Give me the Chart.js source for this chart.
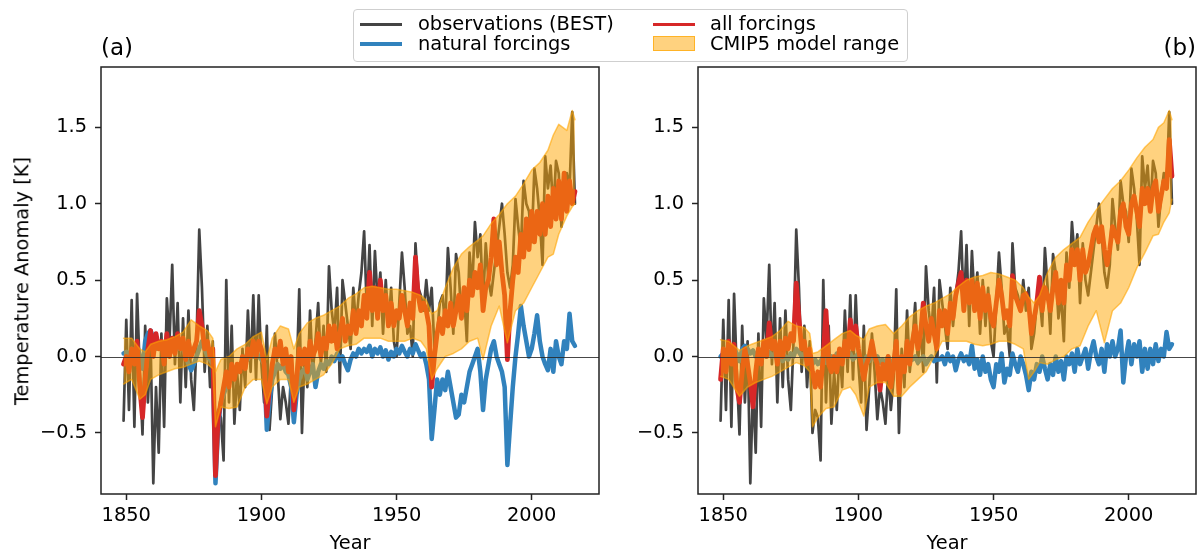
<!DOCTYPE html>
<html>
<head>
<meta charset="utf-8">
<script src="https://cdn.jsdelivr.net/npm/chart.js@4.4.1/dist/chart.umd.min.js"></script>
<style>
html,body{margin:0;padding:0;background:#fff;}
body{width:1202px;height:553px;position:relative;overflow:hidden;font-family:"DejaVu Sans",sans-serif;color:#000;}
canvas{position:absolute;top:0;}
#ca{left:0;}
#cb{left:600px;}
.t{position:absolute;white-space:nowrap;line-height:1;}
#legend{position:absolute;left:353px;top:9px;width:553px;height:51px;border:1px solid #cfcfcf;border-radius:4px;background:rgba(255,255,255,0.85);z-index:5;}
.lh{position:absolute;height:4px;}
.lt{position:absolute;font-size:19.4px;line-height:1;white-space:nowrap;}
</style>
</head>
<body>
<canvas id="ca" width="605" height="553"></canvas>
<canvas id="cb" width="602" height="553"></canvas>

<div class="t" style="left:101px;top:35.5px;font-size:23px;">(a)</div>
<div class="t" style="left:1196px;top:35.5px;font-size:23px;transform:translateX(-100%);">(b)</div>
<div class="t" style="left:350px;top:532.6px;font-size:19.4px;transform:translateX(-50%);">Year</div>
<div class="t" style="left:947px;top:532.6px;font-size:19.4px;transform:translateX(-50%);">Year</div>
<div class="t" style="left:22.3px;top:281px;font-size:19.4px;transform:translate(-50%,-50%) rotate(-90deg);">Temperature Anomaly [K]</div>

<div id="legend">
  <div class="lh" style="left:6px;top:12.5px;width:42px;background:#444444;height:3.5px;"></div>
  <div class="lt" style="left:64px;top:4px;">observations (BEST)</div>
  <div class="lh" style="left:6px;top:32px;width:42px;background:#3182bd;height:3.5px;"></div>
  <div class="lt" style="left:64px;top:24px;">natural forcings</div>
  <div class="lh" style="left:299px;top:12.5px;width:42px;background:#d62728;height:3.5px;"></div>
  <div class="lt" style="left:356px;top:4px;">all forcings</div>
  <div class="lh" style="left:299px;top:26px;width:40px;height:13px;background:rgba(255,165,0,0.5);border:1px solid rgba(255,165,0,0.7);"></div>
  <div class="lt" style="left:356px;top:24px;">CMIP5 model range</div>
</div>

<script>
// ---------- DATA ----------
const years = [];
for (let y = 1849; y <= 2016; y++) years.push(y);

const xTickValues = [1850, 1900, 1950, 2000];
const yTickValues = [-0.5, 0.0, 0.5, 1.0, 1.5];

// observations (BEST), annual 1849-2016
const obs = [
  -0.42,
  0.24, -0.35, 0.37, -0.46, 0.41, -0.10, -0.51, 0.20, -0.30, 0.10,
  -0.83, -0.20, -0.63, 0.15, -0.46, 0.38, 0.10, 0.60, -0.05, 0.35,
  -0.30, 0.25, -0.20, 0.30, -0.15, -0.35, 0.10, 0.83, 0.45, -0.10,
  0.20, -0.20, 0.10, -0.50, -0.35, -0.40, -0.68, 0.50, -0.30, 0.20,
  -0.44, -0.10, -0.35, 0.05, -0.20, 0.30, -0.10, 0.40, -0.15, 0.40,
  -0.05, -0.30, 0.20, -0.48, -0.20, 0.15, -0.10, -0.41, -0.20, -0.30,
  -0.44, -0.10, -0.35, -0.15, 0.44, -0.50, 0.05, -0.20, 0.30, -0.10,
  0.10, 0.35, -0.05, 0.20, -0.10, 0.59, 0.30, 0.15, 0.45, -0.17,
  0.50, 0.35, 0.20, 0.05, 0.45, 0.20, 0.40, 0.55, 0.82, 0.30,
  0.73, 0.20, 0.69, 0.35, 0.55, 0.15, 0.50, 0.20, 0.45, 0.10,
  0.00, 0.35, 0.68, 0.45, 0.15, 0.20, 0.00, 0.74, 0.45, 0.40,
  0.30, 0.50, 0.30, 0.45, 0.05, 0.15, 0.35, 0.40, 0.20, 0.71,
  0.45, 0.15, 0.67, 0.55, 0.25, 0.40, 0.10, 0.68, 0.45, 0.88,
  0.65, 0.80, 0.35, 0.74, 0.50, 0.40, 0.55, 0.70, 0.85, 1.00,
  0.80, 0.55, 0.45, 0.60, 1.03, 0.85, 0.70, 1.15, 1.00, 0.95,
  0.75, 1.23, 1.10, 0.90, 0.60, 1.31, 1.10, 1.25, 0.95, 1.28,
  1.20, 0.85, 1.05, 1.20, 1.10, 1.60, 1.00
];

// panel (a): natural forcings
const naturalA = [
  0.02,
  0.03, 0.00, 0.05, 0.02, 0.08, 0.00, -0.08, 0.10, 0.15, 0.17,
  0.12, 0.05, 0.08, 0.10, 0.05, 0.08, 0.05, 0.10, 0.08, 0.05,
  0.07, 0.05, 0.00, -0.05, -0.09, -0.05, 0.00, 0.05, 0.10, 0.05,
  0.00, -0.02, -0.05, -0.83, -0.45, -0.30, -0.25, -0.20, -0.15, -0.12,
  -0.10, -0.08, -0.05, -0.03, 0.00, -0.02, 0.02, 0.00, 0.03, 0.00,
  -0.02, -0.05, -0.48, -0.30, -0.15, -0.10, -0.05, -0.08, -0.05, -0.10,
  -0.12, -0.20, -0.43, -0.25, -0.15, -0.10, -0.08, -0.15, -0.10, -0.05,
  -0.20, -0.10, -0.05, -0.08, -0.03, -0.05, 0.00, -0.03, 0.02, -0.02,
  0.00, -0.05, -0.09, -0.02, 0.02, 0.00, 0.05, 0.02, 0.05, 0.03,
  0.07, 0.00, 0.05, 0.02, 0.06, 0.00, 0.04, -0.02, 0.03, 0.00,
  0.05, 0.02, 0.07, 0.03, 0.00, 0.05, 0.02, 0.08, 0.04, 0.00,
  0.02, -0.05, -0.15, -0.54, -0.35, -0.15, -0.25, -0.15, -0.22, -0.10,
  -0.20, -0.30, -0.40, -0.38, -0.25, -0.30, -0.20, -0.10, -0.05, 0.00,
  0.05, -0.10, -0.35, -0.15, -0.05, 0.05, 0.10, 0.00, -0.05, -0.10,
  -0.20, -0.71, -0.45, -0.20, 0.00, 0.15, 0.33, 0.20, 0.10, 0.00,
  0.05, 0.15, 0.27, 0.10, 0.00, -0.05, -0.09, 0.05, -0.10, 0.10,
  0.00, -0.05, 0.10, 0.05, 0.28, 0.10, 0.07
];

// panel (a): all forcings
const allA = [
  -0.05,
  0.00, -0.10, 0.05, -0.05, 0.10, -0.20, -0.40, -0.15, 0.05, 0.17,
  0.00, 0.15, 0.05, 0.10, -0.05, 0.15, 0.00, 0.12, 0.02, 0.15,
  0.05, 0.12, -0.02, 0.10, 0.00, 0.05, 0.10, 0.30, 0.20, 0.05,
  0.10, 0.00, 0.05, -0.78, -0.40, -0.30, -0.20, -0.10, -0.20, -0.05,
  -0.15, -0.05, -0.10, 0.00, -0.08, 0.05, 0.00, 0.10, 0.00, 0.10,
  0.05, -0.05, -0.39, -0.20, -0.05, 0.05, 0.00, 0.10, -0.05, 0.05,
  -0.10, 0.00, -0.35, -0.15, 0.05, -0.05, 0.05, -0.10, 0.10, 0.00,
  0.05, 0.15, 0.00, 0.12, 0.05, 0.20, 0.10, 0.20, 0.05, 0.15,
  0.25, 0.10, 0.20, 0.15, 0.30, 0.15, 0.30, 0.20, 0.40, 0.25,
  0.55, 0.30, 0.45, 0.25, 0.50, 0.30, 0.40, 0.20, 0.35, 0.20,
  0.30, 0.25, 0.40, 0.30, 0.20, 0.35, 0.25, 0.65, 0.40, 0.30,
  0.35, 0.30, 0.20, -0.20, 0.00, 0.15, 0.25, 0.15, 0.30, 0.20,
  0.35, 0.20, 0.30, 0.40, 0.25, 0.45, 0.30, 0.50, 0.40, 0.55,
  0.45, 0.60, 0.30, 0.45, 0.50, 0.65, 0.90, 0.60, 0.75, 0.55,
  0.40, -0.02, 0.30, 0.50, 0.65, 0.55, 0.80, 0.65, 0.90, 0.70,
  0.95, 0.75, 0.95, 0.80, 1.00, 0.80, 1.05, 0.85, 1.10, 0.90,
  1.15, 0.90, 1.20, 0.95, 1.15, 1.00, 1.08
];

// panel (a): CMIP5 model range
const bandYearsA = [1849,1852,1855,1857,1859,1862,1865,1868,1871,1874,1877,1880,1882,1883,1885,1888,1891,1894,1897,1900,1902,1904,1907,1910,1912,1914,1917,1920,1923,1926,1929,1932,1935,1938,1941,1944,1947,1950,1953,1956,1959,1961,1963,1965,1968,1971,1974,1977,1980,1982,1985,1988,1991,1994,1997,2000,2003,2006,2008,2010,2013,2015,2016];
const bandLoA = [-0.18,-0.15,-0.28,-0.25,-0.15,-0.12,-0.10,-0.08,-0.07,-0.05,-0.03,-0.05,-0.08,-0.46,-0.33,-0.34,-0.33,-0.20,-0.15,-0.15,-0.31,-0.20,-0.15,-0.15,-0.30,-0.20,-0.18,-0.15,-0.12,-0.05,0.05,0.07,0.08,0.12,0.12,0.12,0.10,0.10,0.10,0.12,0.10,0.05,-0.15,-0.08,0.00,0.02,0.05,0.10,0.12,-0.02,0.20,0.33,0.09,0.30,0.35,0.45,0.55,0.65,0.67,0.80,0.92,0.98,1.00];
const bandHiA = [0.12,0.12,0.05,0.03,0.08,0.10,0.11,0.13,0.16,0.24,0.20,0.17,0.12,-0.10,-0.02,0.00,0.05,0.08,0.13,0.16,-0.02,0.12,0.20,0.18,0.05,0.15,0.22,0.25,0.27,0.30,0.33,0.38,0.41,0.45,0.46,0.45,0.44,0.44,0.43,0.42,0.40,0.37,0.28,0.30,0.45,0.58,0.67,0.72,0.76,0.79,0.87,0.93,1.00,1.05,1.13,1.22,1.27,1.35,1.45,1.52,1.48,1.61,1.55];

// panel (b): natural forcings
const naturalB = [
  0.00,
  0.02, -0.02, 0.03, 0.00, 0.05, 0.02, -0.03, 0.05, 0.07, 0.05,
  0.02, 0.04, 0.00, 0.03, -0.02, 0.02, 0.00, 0.03, 0.00, 0.02,
  -0.02, 0.00, -0.03, 0.00, -0.02, 0.02, 0.00, 0.05, 0.03, 0.00,
  0.02, -0.03, 0.00, -0.05, -0.02, -0.05, -0.03, 0.00, -0.04, -0.02,
  0.00, -0.03, 0.02, -0.02, 0.00, 0.03, 0.00, 0.02, -0.02, 0.00,
  0.02, -0.02, -0.05, 0.00, -0.03, 0.02, -0.02, 0.00, -0.04, -0.02,
  -0.05, 0.00, -0.06, -0.02, 0.00, -0.04, -0.02, -0.05, 0.00, -0.03,
  -0.02, 0.00, -0.04, -0.02, 0.00, -0.05, -0.02, 0.00, -0.03, -0.02,
  -0.02, 0.00, -0.05, 0.02, -0.03, 0.00, -0.09, -0.02, 0.02, -0.03,
  0.00, -0.05, 0.07, -0.08, -0.02, -0.12, 0.00, -0.10, -0.05, -0.15,
  -0.20, -0.05, -0.10, 0.02, -0.17, -0.08, -0.12, 0.02, -0.05, -0.10,
  0.00, -0.05, -0.12, -0.22, -0.10, -0.15, -0.05, -0.10, 0.00, -0.08,
  -0.15, -0.05, -0.12, 0.00, -0.10, -0.03, -0.15, 0.00, -0.05, 0.02,
  -0.10, 0.05, -0.05, 0.00, 0.05, -0.08, 0.03, 0.10, 0.00, -0.05,
  0.05, -0.10, 0.08, 0.00, 0.10, 0.00, 0.05, 0.17, -0.17, 0.00,
  0.10, -0.05, 0.08, 0.00, 0.10, -0.10, 0.05, -0.08, 0.05, -0.05,
  0.08, -0.03, 0.05, 0.00, 0.16, 0.05, 0.08
];

// panel (b): all forcings
const allB = [
  -0.15,
  0.05, -0.10, 0.10, -0.05, 0.08, -0.20, -0.30, -0.10, 0.05, -0.05,
  -0.17, -0.33, -0.10, 0.05, -0.05, 0.10, 0.00, 0.22, 0.05, 0.10,
  -0.05, 0.10, 0.00, 0.12, 0.05, 0.15, 0.10, 0.48, 0.25, 0.05,
  0.10, -0.05, 0.05, -0.10, -0.20, -0.10, -0.20, 0.00, 0.30, -0.05,
  -0.10, 0.00, -0.10, 0.05, -0.05, 0.10, 0.00, 0.24, 0.05, 0.20,
  0.05, -0.05, -0.15, -0.05, 0.00, 0.10, 0.00, -0.05, -0.22, -0.05,
  -0.15, 0.00, -0.20, -0.05, 0.10, -0.24, 0.00, -0.10, 0.10, -0.05,
  0.10, 0.20, 0.05, 0.15, 0.35, 0.20, 0.10, 0.25, 0.15, 0.05,
  0.30, 0.20, 0.30, 0.15, 0.35, 0.25, 0.40, 0.48, 0.55, 0.30,
  0.50, 0.35, 0.50, 0.30, 0.48, 0.25, 0.45, 0.30, 0.40, 0.25,
  0.20, 0.35, 0.50, 0.40, 0.25, 0.30, 0.20, 0.53, 0.40, 0.35,
  0.30, 0.40, 0.41, 0.35, 0.15, 0.25, 0.35, 0.52, 0.30, 0.45,
  0.40, 0.30, 0.45, 0.55, 0.35, 0.50, 0.35, 0.60, 0.50, 0.70,
  0.60, 0.70, 0.50, 0.70, 0.55, 0.60, 0.70, 0.80, 0.85, 0.75,
  0.85, 0.70, 0.60, 0.70, 0.85, 0.80, 0.75, 0.95, 1.00, 0.85,
  0.80, 1.00, 1.05, 0.95, 0.85, 1.10, 1.00, 1.10, 0.95, 1.10,
  1.15, 0.95, 1.05, 1.15, 1.10, 1.42, 1.18
];

// panel (b): CMIP5 model range
const bandYearsB = [1849,1852,1856,1859,1862,1865,1868,1871,1874,1877,1880,1882,1883,1885,1888,1891,1894,1897,1899,1902,1904,1907,1910,1913,1916,1919,1922,1925,1928,1931,1934,1937,1940,1943,1946,1949,1952,1955,1958,1961,1963,1965,1967,1970,1973,1976,1979,1982,1985,1988,1991,1994,1997,2000,2003,2006,2009,2011,2013,2015,2016];
const bandLoB = [-0.13,-0.15,-0.26,-0.20,-0.17,-0.15,-0.13,-0.10,-0.07,-0.04,-0.06,-0.10,-0.46,-0.40,-0.34,-0.33,-0.22,-0.20,-0.25,-0.39,-0.20,-0.17,-0.17,-0.26,-0.26,-0.20,-0.15,-0.10,0.00,0.10,0.10,0.10,0.10,0.08,0.07,0.08,0.10,0.10,0.08,0.05,-0.15,-0.10,-0.04,-0.05,-0.02,0.00,0.05,0.07,0.20,0.30,0.09,0.30,0.35,0.45,0.58,0.68,0.79,0.80,0.88,0.94,1.03];
const bandHiB = [0.11,0.10,0.04,0.07,0.09,0.11,0.13,0.17,0.23,0.20,0.19,0.15,0.02,0.03,0.07,0.11,0.15,0.17,0.14,0.11,0.18,0.20,0.21,0.15,0.20,0.26,0.30,0.33,0.35,0.38,0.41,0.46,0.50,0.52,0.53,0.55,0.54,0.52,0.50,0.45,0.39,0.35,0.40,0.55,0.65,0.70,0.74,0.78,0.88,0.96,1.03,1.10,1.15,1.22,1.30,1.37,1.42,1.50,1.53,1.61,1.55];

// ---------- CHARTS ----------
Chart.defaults.font.family = '"DejaVu Sans", sans-serif';
Chart.defaults.color = '#000';

function pts(xs, ys) { return xs.map((x, i) => ({ x: x, y: ys[i] })); }

const framePlugin = {
  id: 'frame',
  afterDatasetsDraw(chart) {
    const ctx = chart.ctx, a = chart.chartArea, ys = chart.scales.y;
    ctx.save();
    const y0 = Math.round(ys.getPixelForValue(0)) + 0.5;
    ctx.strokeStyle = 'rgba(40,40,40,0.85)';
    ctx.lineWidth = 1;
    ctx.beginPath(); ctx.moveTo(a.left, y0); ctx.lineTo(a.right, y0); ctx.stroke();
    ctx.strokeStyle = '#222';
    ctx.lineWidth = 1.5;
    ctx.strokeRect(a.left, a.top, a.right - a.left, a.bottom - a.top);
    ctx.restore();
  }
};

function makeChart(id, yAxisW, rightPad, natural, all, bYears, bLo, bHi) {
  const tickFont = { family: '"DejaVu Sans", sans-serif', size: 19.4 };
  return new Chart(document.getElementById(id), {
    type: 'line',
    data: {
      datasets: [
        { label: 'observations (BEST)', data: pts(years, obs), borderColor: '#444444', borderWidth: 2.7, order: 4 },
        { label: 'natural forcings', data: pts(years, natural), borderColor: '#3182bd', borderWidth: 4.5, order: 3 },
        { label: 'all forcings', data: pts(years, all), borderColor: '#d62728', borderWidth: 4.8, order: 2 },
        { label: 'CMIP5 model range', data: pts(bYears, bHi), borderColor: 'rgba(255,165,0,0.6)', borderWidth: 1.5,
          backgroundColor: 'rgba(255,165,0,0.5)', fill: '+1', order: 1 },
        { label: 'range low', data: pts(bYears, bLo), borderColor: 'rgba(255,165,0,0.6)', borderWidth: 1.5, fill: false, order: 1 }
      ]
    },
    options: {
      responsive: false,
      animation: false,
      devicePixelRatio: 1,
      elements: { point: { radius: 0 }, line: { tension: 0, borderJoinStyle: 'round', borderCapStyle: 'round' } },
      layout: { padding: { top: 67, right: rightPad, left: 0, bottom: 0 } },
      plugins: { legend: { display: false }, tooltip: { enabled: false } },
      scales: {
        x: {
          type: 'linear', min: 1840.65, max: 2024.9,
          afterBuildTicks: s => { s.ticks = xTickValues.map(v => ({ value: v })); },
          afterFit: s => { s.height = 59; },
          ticks: { font: tickFont, color: '#000', padding: 4, maxRotation: 0, autoSkip: false, callback: v => String(v) },
          grid: { display: true, drawOnChartArea: false, drawTicks: true, tickLength: 6, tickWidth: 1.5, tickColor: '#222' },
          border: { display: false }
        },
        y: {
          type: 'linear', min: -0.9, max: 1.895,
          afterBuildTicks: s => { s.ticks = yTickValues.map(v => ({ value: v })); },
          afterFit: s => { s.width = yAxisW; },
          ticks: { font: tickFont, color: '#000', padding: 8, autoSkip: false,
            callback: v => (v < 0 ? '\u2212' : '') + Math.abs(v).toFixed(1) },
          grid: { display: true, drawOnChartArea: false, drawTicks: true, tickLength: 6, tickWidth: 1.5, tickColor: '#222' },
          border: { display: false }
        }
      }
    },
    plugins: [framePlugin]
  });
}

makeChart('ca', 101, 6, naturalA, allA, bandYearsA, bandLoA, bandHiA);
makeChart('cb', 98, 6, naturalB, allB, bandYearsB, bandLoB, bandHiB);
</script>
</body>
</html>
